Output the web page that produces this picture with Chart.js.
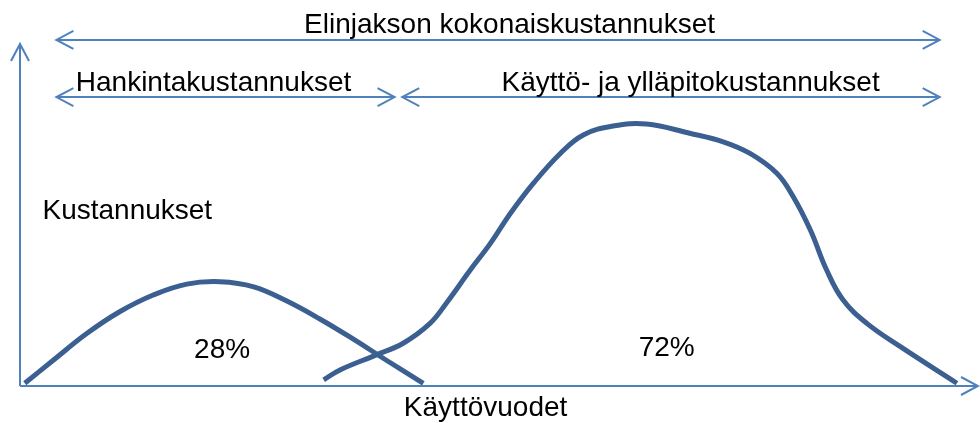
<!DOCTYPE html>
<html lang="fi">
<head>
    <meta charset="UTF-8">
    <title>Elinjakson kokonaiskustannukset</title>
    <script src="https://cdn.jsdelivr.net/npm/chart.js"></script>
    <style>
        body { margin: 0; background: #fff; }
    </style>
</head>
<body>
    <canvas id="lifecycle-chart" width="980" height="423"></canvas>

    <script>
        // Hankintakustannukset (acquisition cost curve)
        const acqYears = [0.5, 3.5, 7.0, 10.4, 13.9, 17.4, 20.9, 24.4, 27.8, 31.3, 34.8, 38.2, 42.1];
        const acqCosts = [0.8, 7.6, 15.4, 21.7, 26.6, 29.8, 30.5, 29.0, 24.9, 19.6, 13.7, 7.6, 0.8];

        // Käyttö- ja ylläpitokustannukset (operating & maintenance curve)
        const opYears = [31.7, 33.4, 37.2, 40.0, 42.8, 44.5, 47.0, 49.1, 51.2, 53.6, 56.4, 58.8, 61.9, 65.4,
                         69.9, 73.4, 76.2, 79.0, 80.7, 82.5, 84.2, 85.9, 88.4, 91.9, 97.8];
        const opCosts = [1.8, 4.7, 9.1, 12.5, 18.3, 24.2, 33.9, 41.7, 50.5, 59.3, 68.0, 73.4, 76.0, 76.6,
                         73.9, 71.4, 68.0, 62.2, 55.4, 45.6, 33.9, 25.2, 18.3, 11.5, 0.8];

        // text labels and their shares
        const spanLabels = ['Elinjakson kokonaiskustannukset', 'Hankintakustannukset', 'Käyttö- ja ylläpitokustannukset'];
        const shareLabels = ['28%', '72%'];
        const yAxisLabel = 'Kustannukset';
        const xAxisLabel = 'Käyttövuodet';

        const AXIS_COLOR = '#4F81BD';
        const CURVE_COLOR = '#3B5F91';
        const FONT = '28px "Liberation Sans", Arial, sans-serif';

        // where the annotations sit, in data units
        const spans = [
            { from: 3.8, to: 96.0, y: 101.2, text: spanLabels[0], tx: 51.1, ty: 105.5 },
            { from: 3.8, to: 39.1, y: 84.5, text: spanLabels[1], tx: 20.2, ty: 88.6 },
            { from: 39.9, to: 96.0, y: 84.5, text: spanLabels[2], tx: 70.0, ty: 88.6 }
        ];
        const notes = [
            { text: shareLabels[0], x: 21.1, y: 10.5 },
            { text: shareLabels[1], x: 67.5, y: 11.1 },
            { text: yAxisLabel, x: 11.2, y: 51.2 },
            { text: xAxisLabel, x: 48.6, y: -6.5 }
        ];

        function chevron(ctx, x, y, dx, dy) {
            // open arrow head pointing along (dx, dy)
            const len = 17, half = 9;
            const px = -dy, py = dx;
            ctx.beginPath();
            ctx.moveTo(x - dx * len + px * half, y - dy * len + py * half);
            ctx.lineTo(x, y);
            ctx.lineTo(x - dx * len - px * half, y - dy * len - py * half);
            ctx.stroke();
        }

        const sketchPlugin = {
            id: 'sketch',
            afterDatasetsDraw(chart) {
                const ctx = chart.ctx;
                const xs = chart.scales.x, ys = chart.scales.y;
                ctx.save();
                ctx.strokeStyle = AXIS_COLOR;
                ctx.lineWidth = 2;
                ctx.lineCap = 'butt';

                // axes with arrows
                const x0 = xs.getPixelForValue(0), y0 = ys.getPixelForValue(0);
                const xEnd = xs.getPixelForValue(100), yEnd = ys.getPixelForValue(100);
                ctx.beginPath();
                ctx.moveTo(x0, y0);
                ctx.lineTo(xEnd, y0);
                ctx.moveTo(x0, y0);
                ctx.lineTo(x0, yEnd);
                ctx.stroke();
                chevron(ctx, xEnd, y0, 1, 0);
                chevron(ctx, x0, yEnd, 0, -1);

                // double arrows
                ctx.font = FONT;
                ctx.fillStyle = '#000';
                ctx.textAlign = 'center';
                ctx.textBaseline = 'middle';
                spans.forEach(s => {
                    const a = xs.getPixelForValue(s.from), b = xs.getPixelForValue(s.to);
                    const y = ys.getPixelForValue(s.y);
                    ctx.beginPath();
                    ctx.moveTo(a, y);
                    ctx.lineTo(b, y);
                    ctx.stroke();
                    chevron(ctx, a, y, -1, 0);
                    chevron(ctx, b, y, 1, 0);
                    ctx.fillText(s.text, xs.getPixelForValue(s.tx), ys.getPixelForValue(s.ty));
                });

                notes.forEach(n => {
                    ctx.fillText(n.text, xs.getPixelForValue(n.x), ys.getPixelForValue(n.y));
                });
                ctx.restore();
            }
        };

        const curve = (xs, ys) => xs.map((x, i) => ({ x: x, y: ys[i] }));
        const lineStyle = {
            borderColor: CURVE_COLOR,
            backgroundColor: CURVE_COLOR,
            borderWidth: 5,
            pointRadius: 0,
            tension: 0.4,
            borderCapStyle: 'butt',
            borderJoinStyle: 'round',
            clip: false,
            fill: false
        };

        new Chart(document.getElementById('lifecycle-chart'), {
            type: 'line',
            data: {
                datasets: [
                    Object.assign({ label: spanLabels[1], data: curve(acqYears, acqCosts) }, lineStyle),
                    Object.assign({ label: spanLabels[2], data: curve(opYears, opCosts) }, lineStyle)
                ]
            },
            options: {
                responsive: false,
                animation: false,
                layout: { padding: { left: 20, right: 2, top: 44, bottom: 37 } },
                plugins: {
                    legend: { display: false },
                    tooltip: { enabled: false }
                },
                scales: {
                    x: { type: 'linear', min: 0, max: 100, display: false },
                    y: { type: 'linear', min: 0, max: 100, display: false }
                }
            },
            plugins: [sketchPlugin]
        });
    </script>
</body>
</html>
